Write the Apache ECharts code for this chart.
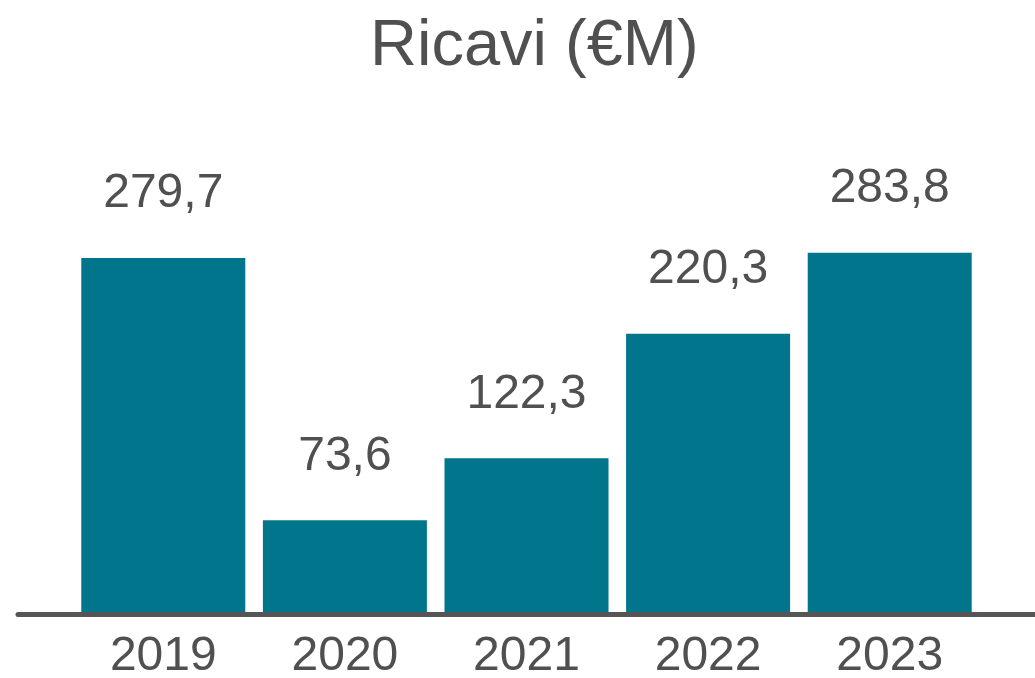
<!DOCTYPE html>
<html>
<head>
<meta charset="utf-8">
<script src="https://cdn.jsdelivr.net/npm/echarts@6/dist/echarts.min.js"></script>
<style>
  html, body { margin: 0; padding: 0; background: #ffffff; }
  #chart { width: 1035px; height: 678px; }
</style>
</head>
<body>
<div id="chart"></div>
<script>
// Revenue per year, in millions of euro
const years = ['2019', '2020', '2021', '2022', '2023'];
const revenue = [279.7, 73.6, 122.3, 220.3, 283.8];
const titleText = 'Ricavi (€M)';

const FONT = "'Liberation Sans', Arial, sans-serif";
const TEXT_COLOR = '#505050';
const BAR_COLOR = '#00758B';

// Years are placed at positions 0..4 on a value axis so the baseline can run
// past the outer bars on both sides.
const positions = years.map((_, i) => i);
const fmt = v => v.toFixed(1).replace('.', ',');

const chart = echarts.init(document.getElementById('chart'), null, { renderer: 'canvas' });
chart.setOption({
  animation: false,
  backgroundColor: '#ffffff',
  title: {
    text: titleText,
    left: 370,
    top: 15,
    padding: 0,
    textStyle: { fontFamily: FONT, fontSize: 65, fontWeight: 'normal', color: TEXT_COLOR }
  },
  grid: {
    left: 18, right: 0, top: 105, bottom: 64,
    containLabel: false,
    outerBoundsMode: 'none'
  },
  xAxis: {
    type: 'value',
    min: -0.8,
    max: 4.8,
    z: 3,
    splitLine: { show: false },
    axisTick: { show: false },
    axisLine: { show: true, lineStyle: { color: '#555555', width: 5 } },
    axisLabel: {
      customValues: positions,
      margin: 19,
      fontFamily: FONT,
      fontSize: 48,
      color: TEXT_COLOR,
      formatter: v => years[Math.round(v)]
    }
  },
  yAxis: {
    type: 'value',
    min: 0,
    max: 400,
    show: false
  },
  series: [{
    type: 'bar',
    barWidth: 164,
    itemStyle: { color: BAR_COLOR },
    data: revenue.map((v, i) => [positions[i], v]),
    label: {
      show: true,
      position: 'top',
      distance: 40,
      fontFamily: FONT,
      fontSize: 48,
      color: TEXT_COLOR,
      formatter: p => fmt(p.value[1])
    }
  }]
});
</script>
</body>
</html>
